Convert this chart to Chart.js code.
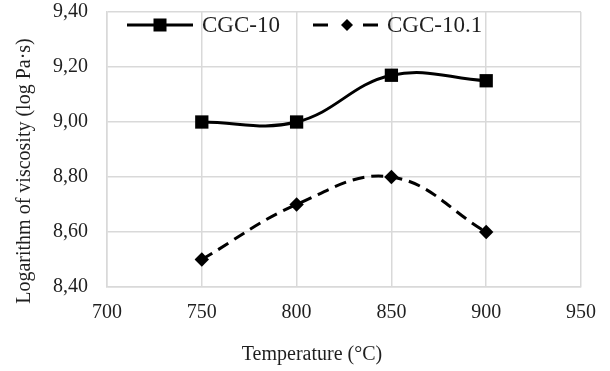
<!DOCTYPE html>
<html>
<head>
<meta charset="utf-8">
<script src="https://cdn.jsdelivr.net/npm/chart.js@4/dist/chart.umd.min.js"></script>
<style>
  html, body { margin: 0; padding: 0; background: #fff; }
  #wrap { width: 610px; height: 371px; }
</style>
</head>
<body>
<div id="wrap"><canvas id="myChart" width="610" height="371"></canvas></div>
<script>
// chart data
const temperatures = [750, 800, 850, 900];
const cgc10 = [9.00, 9.00, 9.17, 9.15];
const cgc101 = [8.50, 8.70, 8.80, 8.60];
const xTicks = [700, 750, 800, 850, 900, 950];
const yTicks = [8.40, 8.60, 8.80, 9.00, 9.20, 9.40];
const seriesNames = ['CGC-10', 'CGC-10.1'];

const FONT = '"Liberation Serif", "Times New Roman", serif';
const TEXT = '#1f1f1f';

// legend drawn inside the plot area, Excel style (line + marker + label)
const overlay = {
  id: 'overlay',
  afterDraw(chart) {
    const ctx = chart.ctx;
    ctx.save();

    // legend
    const items = [
      { x0: 127, x1: 193, mx: 160, tx: 202, dash: [], ds: chart.data.datasets[0] },
      { x0: 313, x1: 378, mx: 347, tx: 387, dash: [15, 35], ds: chart.data.datasets[1] }
    ];
    const ly = 25;
    items.forEach(it => {
      ctx.strokeStyle = '#000';
      ctx.lineWidth = 3;
      ctx.setLineDash(it.dash);
      ctx.beginPath();
      ctx.moveTo(it.x0, ly);
      ctx.lineTo(it.x1, ly);
      ctx.stroke();
      ctx.setLineDash([]);
      ctx.fillStyle = '#000';
      if (it.ds.pointStyle === 'rect') {
        ctx.fillRect(it.mx - 6.5, ly - 6.5, 13, 13);
      } else {
        ctx.beginPath();
        ctx.moveTo(it.mx, ly - 6);
        ctx.lineTo(it.mx + 6, ly);
        ctx.lineTo(it.mx, ly + 6);
        ctx.lineTo(it.mx - 6, ly);
        ctx.closePath();
        ctx.fill();
      }
      ctx.fillStyle = TEXT;
      ctx.font = '23px ' + FONT;
      ctx.textBaseline = 'middle';
      ctx.textAlign = 'left';
      ctx.fillText(it.ds.label, it.tx, ly + 1);
    });

    // axis titles
    ctx.fillStyle = TEXT;
    ctx.font = '20px ' + FONT;
    ctx.textAlign = 'center';
    ctx.textBaseline = 'middle';
    ctx.fillText('Temperature (°C)', 312, 355);

    ctx.translate(25, 171);
    ctx.rotate(-Math.PI / 2);
    ctx.fillText('Logarithm of viscosity (log Pa·s)', 0, 0);
    ctx.restore();
  }
};

const ctx = document.getElementById('myChart').getContext('2d');
const myChart = new Chart(ctx, {
  type: 'line',
  data: {
    datasets: [{
      label: seriesNames[0],
      data: temperatures.map((t, i) => ({ x: t, y: cgc10[i] })),
      borderColor: '#000',
      backgroundColor: '#000',
      borderWidth: 3,
      tension: 0.4,
      pointStyle: 'rect',
      pointRadius: 9.4,
      pointBorderWidth: 0
    }, {
      label: seriesNames[1],
      data: temperatures.map((t, i) => ({ x: t, y: cgc101[i] })),
      borderColor: '#000',
      backgroundColor: '#000',
      borderWidth: 3,
      borderDash: [12, 7],
      tension: 0.4,
      pointStyle: 'rectRot',
      pointRadius: 7.2,
      pointBorderWidth: 0
    }]
  },
  options: {
    responsive: false,
    animation: false,
    devicePixelRatio: 1,
    layout: { padding: { top: 12, right: 29, left: 0, bottom: 0 } },
    plugins: {
      legend: { display: false },
      tooltip: { enabled: false }
    },
    scales: {
      x: {
        type: 'linear',
        min: xTicks[0],
        max: xTicks[xTicks.length - 1],
        afterBuildTicks: s => { s.ticks = xTicks.map(v => ({ value: v })); },
        afterFit: s => { s.height = 84; s.paddingLeft = 0; s.paddingRight = 0; },
        grid: { color: '#d9d9d9', lineWidth: 1.5, drawTicks: false },
        border: { color: '#d9d9d9', width: 1.5 },
        ticks: {
          padding: 14,
          color: TEXT,
          maxRotation: 0,
          font: { family: FONT, size: 20 }
        }
      },
      y: {
        type: 'linear',
        min: yTicks[0],
        max: yTicks[yTicks.length - 1],
        afterBuildTicks: s => { s.ticks = yTicks.map(v => ({ value: v })); },
        afterFit: s => { s.width = 107; s.paddingTop = 0; s.paddingBottom = 0; },
        grid: { color: '#d9d9d9', lineWidth: 1.5, drawTicks: false },
        border: { color: '#d9d9d9', width: 1.5 },
        ticks: {
          padding: 19,
          color: TEXT,
          font: { family: FONT, size: 20 },
          callback: v => v.toFixed(2).replace('.', ',')
        }
      }
    }
  },
  plugins: [overlay]
});
</script>
</body>
</html>
